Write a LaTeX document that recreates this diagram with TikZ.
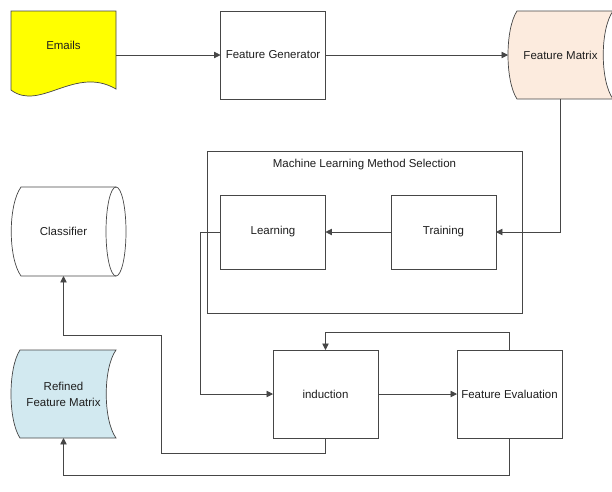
\documentclass[tikz,border=0pt]{standalone}
\usepackage{fontspec}
\setmainfont{Liberation Sans}
\usepackage{tikz}
\usetikzlibrary{arrows.meta,positioning,calc}
\pgfdeclarelayer{bg}
\pgfsetlayers{bg,main}
\definecolor{linegray}{RGB}{70,70,70}
\definecolor{textgray}{RGB}{30,30,30}
\definecolor{mailyellow}{RGB}{255,255,0}
\definecolor{matpeach}{RGB}{252,235,222}
\definecolor{refblue}{RGB}{210,233,240}
\tikzset{
    box/.style={draw=linegray, line width=0.6pt, fill=white, minimum width=3.15cm, inner sep=0pt, outer sep=0pt, text=textgray},
    shapebox/.style={minimum width=3.15cm, inner sep=0pt, outer sep=0pt, text=textgray},
    shapeline/.style={draw=linegray, line width=0.6pt},
    conn/.style={draw=linegray, line width=0.6pt, -{Triangle[length=5.5pt,width=5.5pt]}}
}

\begin{document}
\begin{tikzpicture}[x=0.03cm, y=-0.03cm, font=\fontsize{9.8}{13.5}\selectfont]
    \useasboundingbox (0,0) rectangle (612,491);

    \node [shapebox, minimum height=2.4cm] (emails) at (63.5,45) { Emails };
    \node [box, minimum height=2.64cm] (gen) at (273,55) { Feature Generator };
    \node [shapebox, minimum height=2.64cm] (fmat) at (560.5,55) { Feature Matrix };
    \node [box, minimum width=9.45cm, minimum height=4.86cm] (mlsel) at (364.5,232) {};
    \node [text=textgray] (mltitle) at (364.5,165) { Machine Learning Method Selection };
    \node [box, minimum height=2.22cm] (learn) at (273,232) { Learning };
    \node [box, minimum height=2.22cm] (train) at (443.5,232) { Training };
    \node [shapebox, minimum height=2.67cm] (clsf) at (63.5,231.5) { Classifier };
    \node [shapebox, minimum height=2.64cm, align=center] (refined) at (63.5,394) { Refined\\Feature Matrix };
    \node [box, minimum height=2.64cm] (induc) at (325.5,394) { induction };
    \node [box, minimum height=2.64cm] (feval) at (509.5,394) { Feature Evaluation };

    \begin{pgfonlayer}{bg}    % shapes behind the texts
        \draw [shapeline, fill=mailyellow] (11,11) -- (116,11) -- (116,89) .. controls (75,65) and (40,112) .. (11,90) -- cycle;
        \draw [shapeline, fill=matpeach] (517,11) -- (613,11) .. controls (600,29) and (600,81) .. (613,99) -- (517,99) .. controls (505,81) and (505,29) .. (517,11) -- cycle;
        \draw [shapeline] (116,187) -- (21,187) .. controls (8,205) and (8,258) .. (21,276) -- (116,276);
        \draw [shapeline] (116,231.5) ellipse [x radius=10, y radius=44.5];
        \draw [shapeline, fill=refblue] (20,350) -- (116,350) .. controls (103,368) and (103,420) .. (116,438) -- (20,438) .. controls (8,420) and (8,368) .. (20,350) -- cycle;
    \end{pgfonlayer}

    \draw [conn] (emails.east |- gen.west) -- (gen.west);
    \draw [conn] (gen.east) -- (fmat.west);
    \draw [conn] (fmat.south) |- (train.east);
    \draw [conn] (train.west) -- (learn.east);
    \draw [conn] (learn.west) -- ++(-20,0) |- (induc.west);
    \draw [conn] (induc.east) -- (feval.west);
    \draw [conn] (feval.north) -- ++(0,-18) -| (induc.north);
    \draw [conn] (induc.south) -- ++(0,15) -| (161,335) -| (clsf.south);
    \draw [conn] (feval.south) -- ++(0,37) -| (refined.south);
\end{tikzpicture}
\end{document}
